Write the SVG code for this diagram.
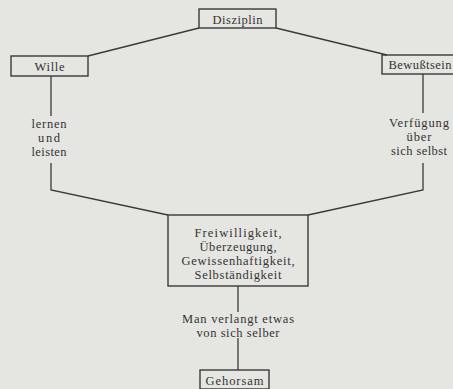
<svg xmlns="http://www.w3.org/2000/svg" width="453" height="389" viewBox="0 0 453 389">
<style>
.bg{fill:#e5e5e1}
.box{fill:none;stroke:#3a3a3a;stroke-width:1.4}
.ln{fill:none;stroke:#3a3a3a;stroke-width:1.3}
text{font-family:"Liberation Serif","Times New Roman",serif;font-size:12.5px;fill:#333;text-anchor:middle}
</style>
<rect class="bg" x="0" y="0" width="453" height="389"/>
<g id="connectors">
<polyline class="ln" points="199,28 88,56"/>
<polyline class="ln" points="276,28 387,55"/>
<line class="ln" x1="51" y1="76" x2="51" y2="116"/>
<polyline class="ln" points="51,163 51,190 168,215"/>
<line class="ln" x1="423" y1="74" x2="423" y2="113"/>
<polyline class="ln" points="423,163 423,190 308,215"/>
<line class="ln" x1="238" y1="286" x2="238" y2="312"/>
<line class="ln" x1="238" y1="338" x2="238" y2="370"/>
<text x="49" y="127.5" textLength="35">lernen</text>
<text x="49" y="141.5" textLength="22">und</text>
<text x="49" y="155.5" textLength="35">leisten</text>
<text x="419" y="126.5" textLength="60">Verfügung</text>
<text x="419" y="140.5" textLength="25">über</text>
<text x="419" y="154.5" textLength="56">sich selbst</text>
<text x="238" y="322.5" textLength="112">Man verlangt etwas</text>
<text x="238" y="336.5" textLength="83">von sich selber</text>
</g>
<g id="disziplin">
<rect class="box" x="199" y="9" width="77" height="19"/>
<text x="237.5" y="23.5" textLength="50">Disziplin</text>
</g>
<g id="wille">
<rect class="box" x="11" y="56" width="77" height="20"/>
<text x="49.5" y="70.5" textLength="30">Wille</text>
</g>
<g id="bewusstsein">
<rect class="box" x="382" y="55" width="80" height="19"/>
<text x="420" y="68.5" textLength="63">Bewußtsein</text>
</g>
<g id="werte">
<rect class="box" x="168" y="215" width="140" height="71"/>
<text x="238" y="236.5" textLength="87">Freiwilligkeit,</text>
<text x="238" y="250.5" textLength="77">Überzeugung,</text>
<text x="238" y="264.5" textLength="113">Gewissenhaftigkeit,</text>
<text x="238" y="278.5" textLength="87">Selbständigkeit</text>
</g>
<g id="gehorsam">
<rect class="box" x="200" y="370" width="69" height="19"/>
<text x="234.5" y="384.5" textLength="58">Gehorsam</text>
</g>
</svg>
